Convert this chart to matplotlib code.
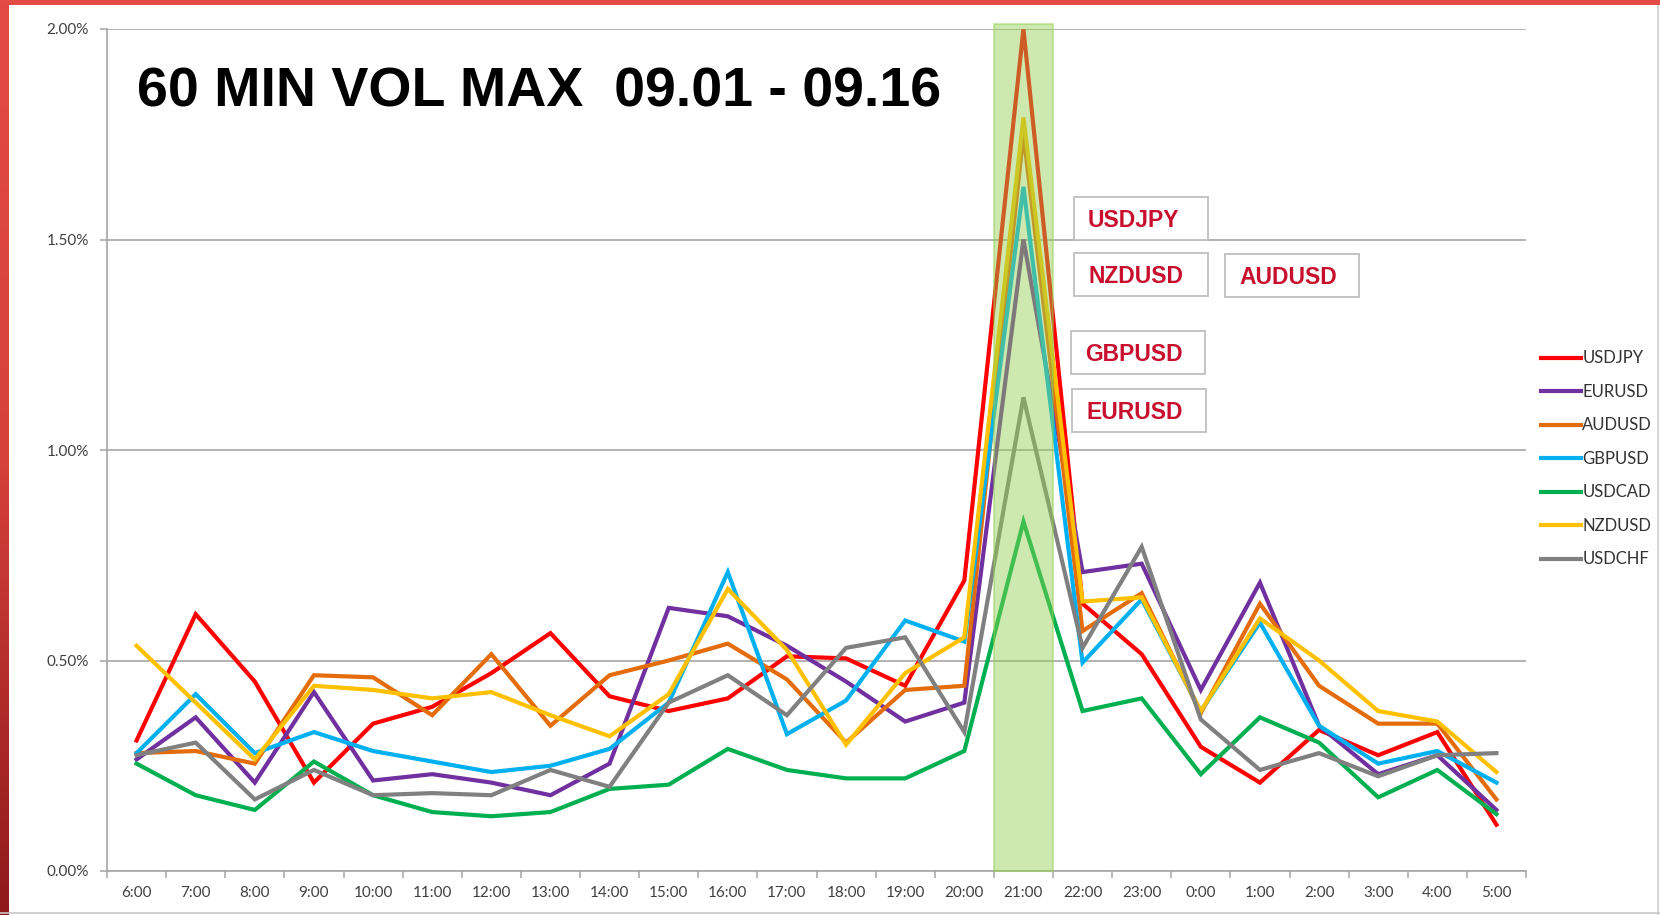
import numpy as np
import matplotlib
matplotlib.use("Agg")
import matplotlib.pyplot as plt
from matplotlib.patches import Rectangle
from matplotlib.lines import Line2D
from matplotlib.colors import LinearSegmentedColormap

# ---------------- data ----------------
hours = ["6:00", "7:00", "8:00", "9:00", "10:00", "11:00", "12:00", "13:00",
         "14:00", "15:00", "16:00", "17:00", "18:00", "19:00", "20:00", "21:00",
         "22:00", "23:00", "0:00", "1:00", "2:00", "3:00", "4:00", "5:00"]

USDJPY = [0.31, 0.61, 0.45, 0.21, 0.35, 0.39, 0.47, 0.565, 0.415, 0.38, 0.41, 0.51,
          0.505, 0.44, 0.69, 2.00, 0.635, 0.515, 0.295, 0.21, 0.335, 0.275, 0.33, 0.11]
EURUSD = [0.265, 0.365, 0.21, 0.425, 0.215, 0.23, 0.21, 0.18, 0.255, 0.625, 0.605, 0.535,
          0.45, 0.355, 0.40, 1.50, 0.71, 0.73, 0.43, 0.685, 0.345, 0.23, 0.275, 0.145]
AUDUSD = [0.28, 0.285, 0.255, 0.465, 0.46, 0.37, 0.515, 0.345, 0.465, 0.50, 0.54, 0.455,
          0.305, 0.43, 0.44, 1.75, 0.57, 0.66, 0.375, 0.635, 0.44, 0.35, 0.35, 0.17]
GBPUSD = [0.28, 0.42, 0.28, 0.33, 0.285, 0.26, 0.235, 0.25, 0.29, 0.40, 0.71, 0.325,
          0.405, 0.595, 0.545, 1.625, 0.495, 0.645, 0.38, 0.59, 0.345, 0.255, 0.285, 0.21]
USDCAD = [0.255, 0.18, 0.145, 0.26, 0.18, 0.14, 0.13, 0.14, 0.195, 0.205, 0.29, 0.24,
          0.22, 0.22, 0.285, 0.83, 0.38, 0.41, 0.23, 0.365, 0.305, 0.175, 0.24, 0.135]
NZDUSD = [0.535, 0.40, 0.265, 0.44, 0.43, 0.41, 0.425, 0.37, 0.32, 0.42, 0.67, 0.525,
          0.30, 0.47, 0.555, 1.79, 0.64, 0.65, 0.38, 0.60, 0.50, 0.38, 0.355, 0.235]
USDCHF = [0.275, 0.305, 0.17, 0.24, 0.18, 0.185, 0.18, 0.24, 0.20, 0.40, 0.465, 0.37,
          0.53, 0.555, 0.33, 1.125, 0.53, 0.77, 0.36, 0.24, 0.28, 0.225, 0.275, 0.28]

series_names = ["USDJPY", "EURUSD", "AUDUSD", "GBPUSD", "USDCAD", "NZDUSD", "USDCHF"]
series_values = [USDJPY, EURUSD, AUDUSD, GBPUSD, USDCAD, NZDUSD, USDCHF]
series_colors = ["#FF0000", "#7030A0", "#E46C0A", "#00B0F0", "#00B050", "#FFC000", "#808080"]

y_ticks = [0.0, 0.5, 1.0, 1.5, 2.0]
highlight_hour = "21:00"
title_text = "60 MIN VOL MAX  09.01 - 09.16"
callouts = ["USDJPY", "NZDUSD", "AUDUSD", "GBPUSD", "EURUSD"]

# ---------------- figure ----------------
W, H = 1660, 915
fig = plt.figure(figsize=(W / 100, H / 100), dpi=100, facecolor="white")


def fx(px):
    return px / W


def fy(py):
    return 1 - py / H


ax_left, ax_right, ax_top, ax_bot = 107, 1526, 29, 871
ax = fig.add_axes([fx(ax_left), fy(ax_bot), fx(ax_right - ax_left), (ax_bot - ax_top) / H])
ax.set_facecolor("white")

x = np.arange(len(hours))
lines = []
for name, vals, col in zip(series_names, series_values, series_colors):
    ln, = ax.plot(x, vals, color=col, lw=3.0, solid_joinstyle="miter", label=name, zorder=3)
    lines.append(ln)

ax.set_xlim(-0.5, len(hours) - 0.5)
ax.set_ylim(0, 2.0)

grid_col = "#A6A6A6"
ax.set_yticks(y_ticks)
ax.set_yticklabels([f"{v:.2f}%" for v in y_ticks])
ax.yaxis.grid(True, color=grid_col, lw=1.2, zorder=1)
ax.set_axisbelow(True)

ax.set_xticks(np.arange(-0.5, len(hours), 1.0))
ax.set_xticklabels([])
ax.set_xticks(x, minor=True)
ax.set_xticklabels(hours, minor=True)
ax.tick_params(axis="x", which="minor", length=0, pad=11)
ax.tick_params(axis="x", which="major", length=5, width=1.1, color=grid_col, direction="out")
ax.tick_params(axis="y", length=5, width=1.1, color=grid_col, direction="out", pad=8)

for lab in ax.get_xticklabels(minor=True) + ax.get_yticklabels():
    lab.set_fontfamily(["Lato", "DejaVu Sans"])
    lab.set_fontsize(11)
    lab.set_color("#404040")

for s in ["top", "right"]:
    ax.spines[s].set_visible(False)
for s in ["left", "bottom"]:
    ax.spines[s].set_color(grid_col)
    ax.spines[s].set_linewidth(1.2)

# green highlight band over 21:00
hi = hours.index(highlight_hour)
ax.axvspan(hi - 0.5, hi + 0.5, ymin=0, ymax=1.006, facecolor="#92D050",
           alpha=0.45, edgecolor="#92D050", lw=1.5, zorder=4, clip_on=False)

# title
fig.text(fx(137), fy(106.5), title_text, fontsize=40, fontweight="bold",
         family=["Liberation Sans", "DejaVu Sans"], color="black", va="baseline", ha="left")

# callout boxes (left, top in pixels)
box_pos = {"USDJPY": (1074, 197), "NZDUSD": (1074, 253), "AUDUSD": (1225, 254),
           "GBPUSD": (1071, 331), "EURUSD": (1072, 389)}
bw, bh = 134, 43
for name in callouts:
    bx, by = box_pos[name]
    fig.patches.append(Rectangle((fx(bx), fy(by + bh)), bw / W, bh / H, transform=fig.transFigure,
                                 facecolor="white", edgecolor="#BFBFBF", lw=1.3, zorder=5))
    fig.text(fx(bx + 14), fy(by + 29.7), name, fontsize=16.5, fontweight="bold",
             family=["Liberation Sans", "DejaVu Sans"], color="#C8102E",
             va="baseline", ha="left", zorder=6)

# legend
leg = fig.legend(handles=lines, labels=series_names, loc="upper left",
                 bbox_to_anchor=(fx(1533), fy(342)), frameon=False, borderpad=0,
                 handlelength=2.4, handletextpad=0.05, labelspacing=1.05,
                 prop={"family": ["Lato", "DejaVu Sans"], "size": 12})
for t in leg.get_texts():
    t.set_color("#333333")

# frame decorations
top_red = "#E34B45"
fig.patches.append(Rectangle((0, fy(4.5)), 1, 4.5 / H, transform=fig.transFigure,
                             facecolor=top_red, edgecolor="none", zorder=10))
gax = fig.add_axes([0, 0, 8 / W, 1])
grad = np.linspace(0, 1, 256).reshape(-1, 1)
cmap = LinearSegmentedColormap.from_list("rb", ["#E34B45", "#D6413B", "#8E1A1A"])
gax.imshow(grad, aspect="auto", cmap=cmap, extent=[0, 1, 0, 1], origin="upper")
gax.axis("off")
fig.add_artist(Line2D([fx(1657.5), fx(1657.5)], [0, 1], color="#D0D0D0", lw=1.2,
                      transform=fig.transFigure))
fig.add_artist(Line2D([0, 1], [fy(912.5), fy(912.5)], color="#C8C8C8", lw=1.2,
                      transform=fig.transFigure))

fig.savefig("out.png", dpi=100, facecolor="white")
